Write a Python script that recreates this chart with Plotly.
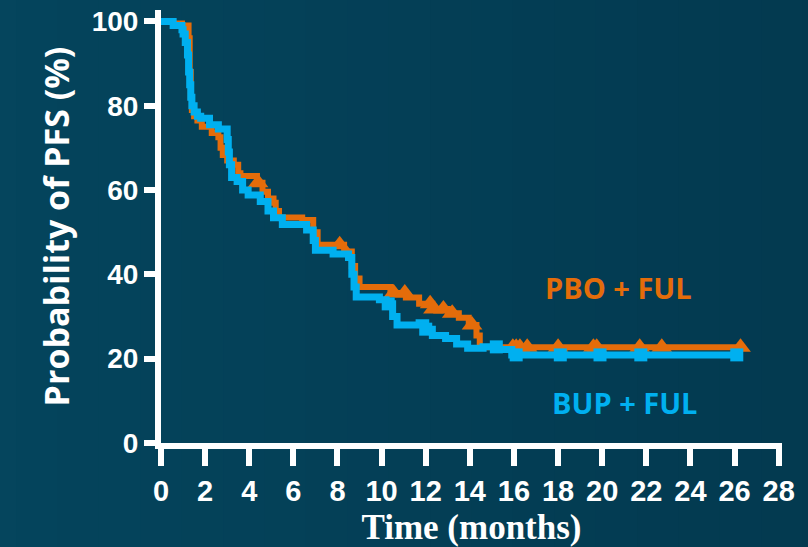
import numpy as np
import plotly.graph_objects as go

# ---- data ----
bup_t = [0, 0.55, 0.95, 1.0, 1.1, 1.2, 1.25, 1.3, 1.35, 1.4, 1.5, 1.65, 1.8, 2.2, 2.6, 3.0, 3.05, 3.1, 3.2,
         3.45, 3.7, 3.95, 4.5, 4.85, 5.1, 5.5, 6.6, 6.9, 7.0, 7.8, 8.5, 8.65, 8.75, 8.85,
         9.9, 10.2, 10.5, 10.7, 11.7, 12.0, 12.3, 12.9, 13.4, 13.9, 14.6, 15.3, 15.9, 26.2]
bup_s = [100, 99, 98, 97, 95, 92, 88, 85, 82, 80, 78.5, 77.5, 77, 75.5, 74.5, 72, 69, 66, 63,
         62, 60, 58.8, 57.3, 55, 53.4, 51.8, 50.5, 48, 45.7, 44.8, 44, 40, 37, 34.6,
         34, 33, 30, 28, 28.5, 27, 25.5, 24.8, 23.5, 22.5, 22.8, 22.2, 20.9, 20.9]
bup_censor = [10.3, 12.0, 15.2, 16.1, 18.1, 19.9, 21.75, 26.1]

pbo_t = [0, 0.55, 0.95, 1.25, 1.3, 1.35, 1.4, 1.5, 1.65, 1.85, 2.3, 2.6, 2.7, 2.8, 3.0, 3.3, 3.5, 3.6,
         4.35, 4.6, 4.85, 5.1, 5.2, 5.35, 6.4, 6.9, 7.1, 8.3, 8.65, 8.8, 9.0, 10.4, 11.1,
         11.7, 12.3, 13.0, 13.5, 13.95, 14.3, 14.45, 26.3]
pbo_s = [100, 99.5, 99, 96, 88, 82, 79, 77.5, 76.5, 75, 73.5, 72.5, 70, 68.3, 67, 66, 64, 63.3,
         61.7, 59.6, 58, 57, 55, 53.5, 52.9, 50, 47, 45.4, 42, 39, 37, 35.6, 34.5,
         33, 31.8, 30.8, 29.7, 28, 25.5, 22.7, 22.7]
pbo_censor = [4.4, 8.1, 10.55, 11.05, 12.2, 12.35, 12.8, 13.2, 14.1, 15.95, 16.1, 16.27,
              16.6, 18.0, 19.6, 19.75, 21.7, 22.7, 26.27]

x_ticks = list(range(0, 29, 2))
y_ticks = [0, 20, 40, 60, 80, 100]

ORANGE = "#E46C0A"
BLUE = "#00B0F0"


def surv_at(ts, ss, times):
    ts = np.asarray(ts)
    ss = np.asarray(ss)
    idx = np.searchsorted(ts, np.asarray(times), side="right") - 1
    return ss[np.clip(idx, 0, len(ss) - 1)]


fig = go.Figure()

# PBO + FUL (drawn first)
fig.add_trace(go.Scatter(x=pbo_t, y=pbo_s, mode="lines", line=dict(color=ORANGE, width=6, shape="hv"),
                         showlegend=False, hoverinfo="skip"))
fig.add_trace(go.Scatter(x=pbo_censor, y=surv_at(pbo_t, pbo_s, pbo_censor), mode="markers",
                         marker=dict(symbol="triangle-up", size=18, color=ORANGE, line=dict(width=0)),
                         showlegend=False, hoverinfo="skip"))
# BUP + FUL
fig.add_trace(go.Scatter(x=bup_t, y=bup_s, mode="lines", line=dict(color=BLUE, width=7, shape="hv"),
                         showlegend=False, hoverinfo="skip"))
fig.add_trace(go.Scatter(x=bup_censor, y=surv_at(bup_t, bup_s, bup_censor), mode="markers",
                         marker=dict(symbol="square", size=13, color=BLUE, line=dict(width=0)),
                         showlegend=False, hoverinfo="skip"))

# background gradient (left lighter -> right darker)
shapes = []
n = 24
c0 = np.array([5, 69, 93])
c1 = np.array([3, 56, 78])
for i in range(n):
    f = i / (n - 1)
    c = (c0 * (1 - f) + c1 * f).astype(int)
    shapes.append(dict(type="rect", xref="paper", yref="paper", layer="below",
                       x0=-0.3 + i * 1.6 / n, x1=-0.3 + (i + 1) * 1.6 / n + 0.002,
                       y0=-0.4, y1=1.1, line=dict(width=0),
                       fillcolor=f"rgb({c[0]},{c[1]},{c[2]})"))

fig.update_layout(
    width=808, height=547,
    margin=dict(l=161, r=26, t=10, b=104, autoexpand=False),
    paper_bgcolor="#05445c",
    plot_bgcolor="rgba(0,0,0,0)",
    shapes=shapes,
)

fig.add_annotation(text="<b>PBO + FUL</b>", x=20.75, y=36.8, xref="x", yref="y", showarrow=False,
                   font=dict(family="Open Sans", size=29, color=ORANGE))
fig.add_annotation(text="<b>BUP + FUL</b>", x=21.0, y=9.6, xref="x", yref="y", showarrow=False,
                   font=dict(family="Open Sans", size=29, color=BLUE))

fig.update_xaxes(
    automargin=False,
    range=[0, 28.15], tickvals=x_ticks, ticktext=[str(v) for v in x_ticks],
    showgrid=False, zeroline=False, showline=True, linecolor="white", linewidth=6,
    ticks="outside", ticklen=17, tickwidth=6, tickcolor="white",
    tickfont=dict(family="Liberation Sans", size=29, color="white", weight="bold"),
    title=dict(text="<b>Time (months)</b>", standoff=18,
               font=dict(family="Liberation Serif", size=35, color="white")),
)
fig.update_yaxes(
    automargin=False,
    range=[0, 102.7], tickvals=y_ticks, ticktext=[str(v) for v in y_ticks],
    showgrid=False, zeroline=False, showline=True, linecolor="white", linewidth=6,
    ticks="outside", ticklen=11, tickwidth=6, tickcolor="white",
    tickfont=dict(family="Liberation Sans", size=28, color="white", weight="bold"),
    title=dict(text="<b>Probability of PFS (%)</b>", standoff=14,
               font=dict(family="Open Sans", size=34, color="white")),
)

fig.write_html("out.html")
